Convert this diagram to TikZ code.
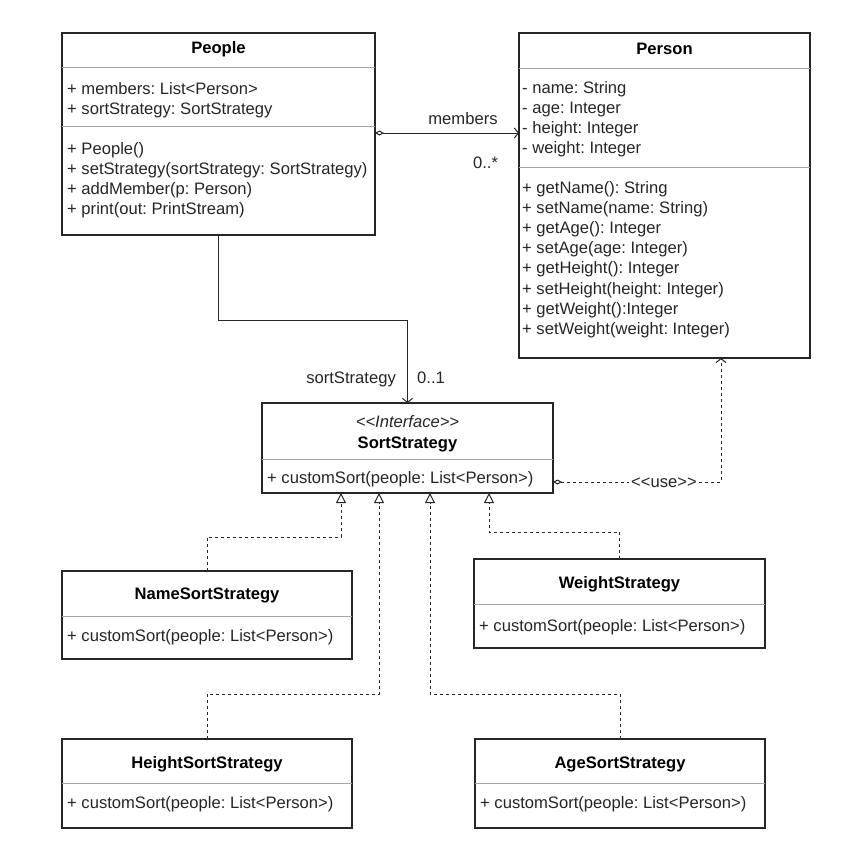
\documentclass[tikz,border=0pt]{standalone}
\usepackage{fontspec}
\setmainfont{Liberation Sans}
\usetikzlibrary{arrows.meta,calc}
\frenchspacing
% two literal "<" or ">" without the font turning them into guillemets
\newcommand\dlt{<\kern0pt<}
\newcommand\dgt{>\kern0pt>}

\tikzset{
  uml/.style={font=\fontsize{16.6}{20}\selectfont},
  cls/.style={draw=black!85, line width=1.1pt, anchor=north west, inner sep=0pt, outer sep=0pt},
  sepline/.style={draw=black!35, line width=1pt},
  member/.style={uml, anchor=base west, inner sep=0pt, text=black!85},
  title/.style={uml, anchor=base, inner sep=0pt, text=black, font=\fontsize{16.6}{20}\selectfont\bfseries},
  lbl/.style={uml, anchor=base, inner sep=0pt, text=black!85},
  conn/.style={line width=1pt, draw=black!85},
  openhead/.style={-{Straight Barb[length=4pt,width=10pt,line width=1pt]}},
  assoc/.style={conn, {Diamond[open,length=9pt,width=5pt,line width=1pt]}-{Straight Barb[length=4pt,width=10pt,line width=1pt]}},
  navig/.style={conn, openhead},
  usedep/.style={conn, dash pattern=on 3pt off 3pt, {Diamond[open,length=9pt,width=5pt,line width=1pt]}-{Straight Barb[length=4pt,width=10pt,line width=1pt]}},
  realize/.style={conn, dash pattern=on 3pt off 3pt, -{Triangle[open,length=10pt,width=10pt,line width=1pt]}},
}

\begin{document}
\begin{tikzpicture}[x=1pt,y=-1pt]
  \useasboundingbox[fill=white] (0,0) rectangle (843,849);

  % ---------- People ----------
  \node[cls, minimum width=313pt, minimum height=202pt] (people) at (62,33) {};
  \draw[sepline] (people.west |- 0,67) -- (people.east |- 0,67);
  \draw[sepline] (people.west |- 0,126) -- (people.east |- 0,126);
  \node[title] (people-t) at (218.5,53) {People};
  \foreach \t [count=\i from 0] in {{+ members: List<Person>},{+ sortStrategy: SortStrategy}}
    \node[member] (people-a\i) at (67,94+20*\i) {\t};
  \foreach \t [count=\i from 0] in {{+ People()},{+ setStrategy(sortStrategy: SortStrategy)},{+ addMember(p: Person)},{+ print(out: PrintStream)}}
    \node[member] (people-m\i) at (67,154+20*\i) {\t};

  % ---------- Person ----------
  \node[cls, minimum width=291pt, minimum height=325pt] (person) at (519,33) {};
  \draw[sepline] (person.west |- 0,68) -- (person.east |- 0,68);
  \draw[sepline] (person.west |- 0,167) -- (person.east |- 0,167);
  \node[title] (person-t) at (664.5,54) {Person};
  \foreach \t [count=\i from 0] in {{- name: String},{- age: Integer},{- height: Integer},{- weight: Integer}}
    \node[member] (person-a\i) at (522,93+20*\i) {\t};
  \foreach \t [count=\i from 0] in {{+ getName(): String},{+ setName(name: String)},{+ getAge(): Integer},{+ setAge(age: Integer)},{+ getHeight(): Integer},{+ setHeight(height: Integer)},{+ getWeight():Integer},{+ setWeight(weight: Integer)}}
    \node[member] (person-m\i) at (522,193+20.2*\i) {\t};

  % ---------- SortStrategy ----------
  \node[cls, minimum width=291pt, minimum height=90pt] (sort) at (262,403) {};
  \draw[sepline] (sort.west |- 0,459) -- (sort.east |- 0,459);
  \node[lbl, font=\fontsize{16.6}{20}\selectfont\itshape] (sort-s) at (407.5,427) {\dlt Interface\dgt};
  \node[title] (sort-t) at (407.5,448) {SortStrategy};
  \node[member] (sort-m) at (267,483) {+ customSort(people: List<Person>)};

  % ---------- concrete strategies ----------
  \node[cls, minimum width=290pt, minimum height=88pt] (name) at (62,571) {};
  \draw[sepline] (name.west |- 0,616) -- (name.east |- 0,616);
  \node[title] (name-t) at (207,599) {NameSortStrategy};
  \node[member] (name-m) at (67,641) {+ customSort(people: List<Person>)};

  \node[cls, minimum width=291pt, minimum height=89pt] (weight) at (474,559) {};
  \draw[sepline] (weight.west |- 0,604) -- (weight.east |- 0,604);
  \node[title] (weight-t) at (619.5,588) {WeightStrategy};
  \node[member] (weight-m) at (479,631) {+ customSort(people: List<Person>)};

  \node[cls, minimum width=290pt, minimum height=89pt] (height) at (62,739) {};
  \draw[sepline] (height.west |- 0,783) -- (height.east |- 0,783);
  \node[title] (height-t) at (207,768) {HeightSortStrategy};
  \node[member] (height-m) at (67,808) {+ customSort(people: List<Person>)};

  \node[cls, minimum width=290pt, minimum height=89pt] (age) at (475,739) {};
  \draw[sepline] (age.west |- 0,783) -- (age.east |- 0,783);
  \node[title] (age-t) at (620,768) {AgeSortStrategy};
  \node[member] (age-m) at (480,808) {+ customSort(people: List<Person>)};

  % ---------- associations ----------
  \draw[assoc] (people.east |- 0,133) -- (person.west |- 0,133);
  \node[lbl] (lbl-members) at (463,124) {members};
  \node[lbl] (lbl-many) at (485.5,168) {0..*};

  \draw[navig] (people.south) -- ++(0,85) -| (sort.north);
  \node[lbl, anchor=base east] (lbl-sort) at (396,383) {sortStrategy};
  \node[lbl, anchor=base west] (lbl-one) at (417,383) {0..1};

  % ---------- use dependency ----------
  \coordinate (useS) at ($(sort.south east)+(0,-11)$);
  \coordinate (useB) at (721,482);
  \draw[usedep] (useS) -- (useB) -- (useB |- person.south);
  \node[lbl, fill=white, inner xsep=2pt, inner ysep=1pt] (lbl-use) at (664,487) {\dlt use\dgt};

  % ---------- realizations ----------
  \coordinate (tName)   at ($(sort.south west)+(79,0)$);
  \coordinate (tHeight) at ($(sort.south west)+(117,0)$);
  \coordinate (tAge)    at ($(sort.south west)+(168,0)$);
  \coordinate (tWeight) at ($(sort.south west)+(227,0)$);
  \draw[realize] (name.north)   |- ($(tName)+(0,44)$)    -- (tName);
  \draw[realize] (height.north) |- ($(tHeight)+(0,201)$) -- (tHeight);
  \draw[realize] (age.north)    |- ($(tAge)+(0,201)$)    -- (tAge);
  \draw[realize] (weight.north) |- ($(tWeight)+(0,39)$)  -- (tWeight);
\end{tikzpicture}
\end{document}
